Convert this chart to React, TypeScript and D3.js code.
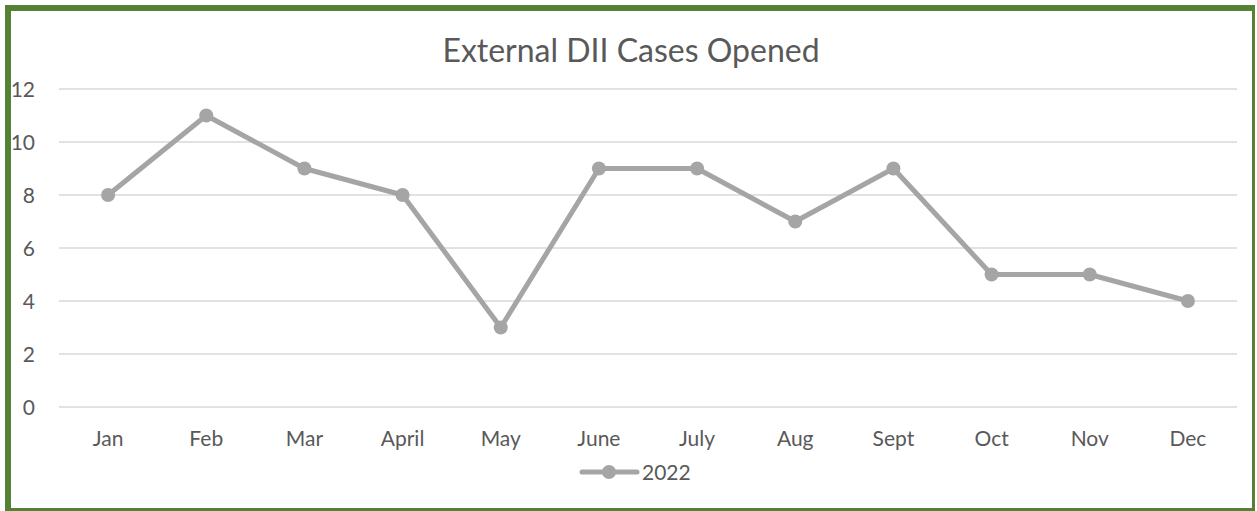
import * as d3 from "d3";

// ── Data ────────────────────────────────────────────────────────────────────
const months = ["Jan", "Feb", "Mar", "April", "May", "June", "July", "Aug", "Sept", "Oct", "Nov", "Dec"];
const cases2022 = [8, 11, 9, 8, 3, 9, 9, 7, 9, 5, 5, 4];
const yTicks = [0, 2, 4, 6, 8, 10, 12];

const W = 1257;
const H = 511;
const PLOT = { left: 59, right: 1237, top: 89, bottom: 407 };
const FONT = "Lato, 'Open Sans', sans-serif";
const TEXT = "#595959";
const LINE = "#A5A5A5";
const GREEN = "#548235";

export default function App() {
  const x = d3.scaleBand<string>().domain(months).range([PLOT.left, PLOT.right]);
  const y = d3.scaleLinear().domain([0, 12]).range([PLOT.bottom, PLOT.top]);
  const cx = (m: string) => (x(m) ?? 0) + x.bandwidth() / 2;

  const line = d3
    .line<number>()
    .x((_, i) => cx(months[i]))
    .y((d) => y(d));

  return (
    <svg
      width={W}
      height={H}
      style={{ position: "absolute", left: 0, top: 0, background: "#fff" }}
    >
      {/* frame */}
      <rect x={5} y={5} width={1250} height={506} fill={GREEN} />
      <rect x={11} y={11} width={1241} height={497} fill="#fff" />

      <text x={631} y={62} textAnchor="middle" fill={TEXT} fontFamily={FONT} fontSize={32}>
        External DII Cases Opened
      </text>

      {/* grid + y labels */}
      {yTicks.map((t) => (
        <g key={t}>
          <line x1={PLOT.left} x2={PLOT.right} y1={y(t)} y2={y(t)} stroke="#D9D9D9" strokeWidth={1.5} />
          <text
            x={35}
            y={y(t)}
            dy="0.36em"
            textAnchor="end"
            fill={TEXT}
            fontFamily={FONT}
            fontSize={21}
          >
            {t}
          </text>
        </g>
      ))}

      {/* x labels */}
      {months.map((m) => (
        <text key={m} x={cx(m)} y={446} textAnchor="middle" fill={TEXT} fontFamily={FONT} fontSize={21}>
          {m}
        </text>
      ))}

      {/* series */}
      <path d={line(cases2022) ?? ""} fill="none" stroke={LINE} strokeWidth={5} strokeLinejoin="round" />
      {cases2022.map((v, i) => (
        <circle key={i} cx={cx(months[i])} cy={y(v)} r={7} fill={LINE} />
      ))}

      {/* legend */}
      <line x1={582} x2={637} y1={472} y2={472} stroke={LINE} strokeWidth={5} strokeLinecap="round" />
      <circle cx={609} cy={472} r={7} fill={LINE} />
      <text x={642} y={480} fill={TEXT} fontFamily={FONT} fontSize={21}>
        2022
      </text>
    </svg>
  );
}
